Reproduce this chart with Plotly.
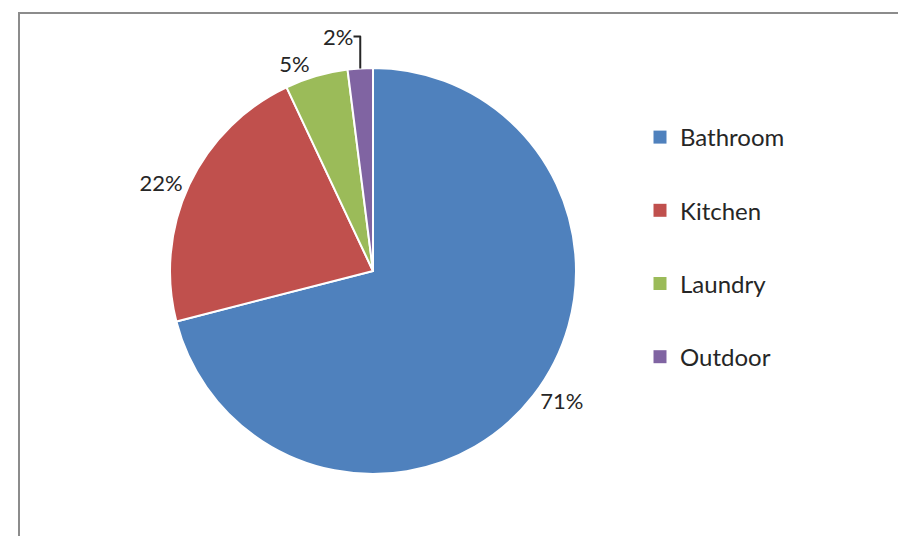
import plotly.graph_objects as go

categories = ["Bathroom", "Kitchen", "Laundry", "Outdoor"]
values = [71, 22, 5, 2]
colors = ["#4F81BD", "#C0504D", "#9BBB59", "#8064A2"]

W, H = 906, 536
FONT = "Lato"

fig = go.Figure()

fig.add_trace(go.Pie(
    labels=categories,
    values=values,
    sort=False,
    direction="clockwise",
    rotation=0,
    marker=dict(colors=colors, line=dict(color="white", width=2)),
    textinfo="percent",
    texttemplate="%{percent:.0%}",
    textposition="outside",
    outsidetextfont=dict(family=FONT, size=22, color="#262626"),
    showlegend=False,
    domain=dict(x=[162 / W, 568 / W], y=[1 - 466 / H, 1 - 60 / H]),
    hoverinfo="label+percent",
))

# legend entries (one group per category so spacing can be controlled)
for name, col in zip(categories, colors):
    fig.add_trace(go.Scatter(
        x=[None], y=[None], mode="markers", name=name,
        marker=dict(symbol="square", size=13, color=col),
        legendgroup=name, showlegend=True, hoverinfo="skip",
    ))

fig.update_layout(
    width=W, height=H,
    margin=dict(l=0, r=0, t=0, b=0),
    paper_bgcolor="white", plot_bgcolor="white",
    font=dict(family=FONT, color="#262626"),
    xaxis=dict(visible=False), yaxis=dict(visible=False),
    legend=dict(
        x=632 / W, xanchor="left", y=1 - 107 / H, yanchor="top",
        font=dict(family=FONT, size=24, color="#262626"),
        tracegroupgap=39, bgcolor="rgba(0,0,0,0)",
    ),
    shapes=[dict(
        type="rect", xref="paper", yref="paper",
        x0=11 / W, x1=1.05, y0=-0.05, y1=1 - 5 / H,
        line=dict(color="#8C8C8C", width=2), layer="above",
    )],
)

fig.write_html("out.html")
